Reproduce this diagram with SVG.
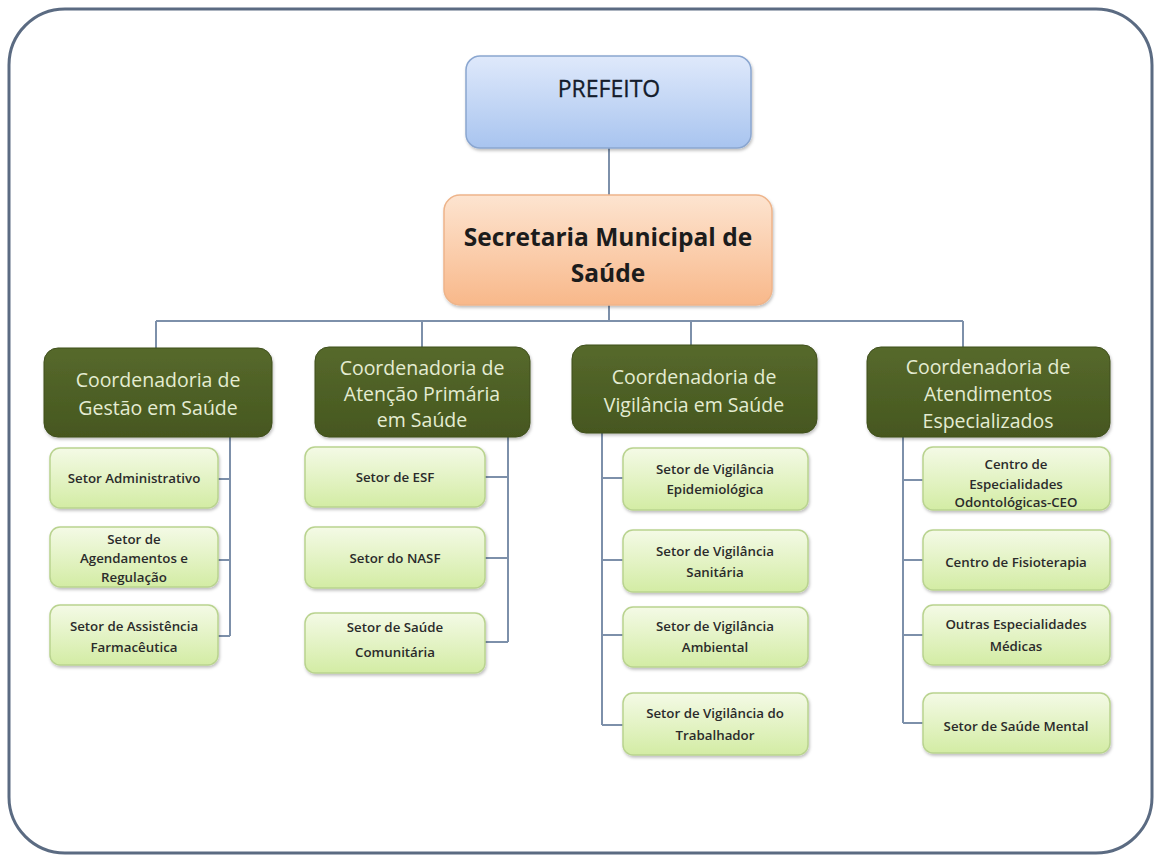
<svg xmlns="http://www.w3.org/2000/svg" width="1155" height="855" viewBox="0 0 1155 855">
<defs>
<linearGradient id="gBlue" x1="0" y1="0" x2="0" y2="1"><stop offset="0" stop-color="#dfe9fb"/><stop offset="1" stop-color="#a8c4ef"/></linearGradient>
<linearGradient id="gOrange" x1="0" y1="0" x2="0" y2="1"><stop offset="0" stop-color="#fde4d0"/><stop offset="1" stop-color="#f8b88a"/></linearGradient>
<linearGradient id="gDark" x1="0" y1="0" x2="0" y2="1"><stop offset="0" stop-color="#56692c"/><stop offset="1" stop-color="#46571f"/></linearGradient>
<linearGradient id="gLight" x1="0" y1="0" x2="0" y2="1"><stop offset="0" stop-color="#f4fae6"/><stop offset="1" stop-color="#d3eca4"/></linearGradient>
<filter id="sh" x="-10%" y="-10%" width="120%" height="130%"><feDropShadow dx="1" dy="2" stdDeviation="1.5" flood-color="#000" flood-opacity="0.25"/></filter>
</defs>
<style>
.frame{fill:#fff;stroke:#5b6b82;stroke-width:3}
.con{fill:none;stroke:#7d90aa;stroke-width:2}
.top{fill:url(#gBlue);stroke:#8aa6d0;stroke-width:1.5;filter:url(#sh)}
.sec{fill:url(#gOrange);stroke:#eeb48a;stroke-width:1.5;filter:url(#sh)}
.coord{fill:url(#gDark);stroke:#3f4e1c;stroke-width:1;filter:url(#sh)}
.sub{fill:url(#gLight);stroke:#b9d38f;stroke-width:1.5;filter:url(#sh)}
.t1{font-family:"Open Sans","Liberation Sans",sans-serif;font-size:23px;fill:#141c2c;text-anchor:middle;stroke:#141c2c;stroke-width:0.3}
.t2{font-family:"Open Sans","Liberation Sans",sans-serif;font-size:24.5px;font-weight:bold;fill:#1c1c1c;text-anchor:middle}
.tc{font-family:"Open Sans","Liberation Sans",sans-serif;font-size:19.5px;fill:#e4ecd2;text-anchor:middle}
.ts{font-family:"Open Sans","Liberation Sans",sans-serif;font-size:13.3px;font-weight:600;fill:#2b2b2b;text-anchor:middle}
</style>
<rect class="frame" x="9" y="9" width="1143" height="844" rx="56" ry="56"/>
<g id="connectors">
<path class="con" d="M609 148V195M609 305V321M156 321H963M156 321V348M422 321V347M691 321V345M963 321V347"/>
<path class="con" d="M230 437V636M218 479H230M218 560H230M218 636H230"/>
<path class="con" d="M508 437V642M485 477H508M485 558H508M485 642H508"/>
<path class="con" d="M602 433V725M602 478H623M602 560H623M602 635H623M602 725H623"/>
<path class="con" d="M903 437V723M903 480H923M903 560H923M903 635H923M903 723H923"/>
</g>
<g id="prefeito"><rect class="top" x="466" y="56" width="285" height="92" rx="14"/><text class="t1" x="609" y="97">PREFEITO</text></g>
<g id="secretaria"><rect class="sec" x="444" y="195" width="328" height="110" rx="16"/><text class="t2" x="608" y="246">Secretaria Municipal de</text><text class="t2" x="608" y="282">Saúde</text></g>
<g id="coord1"><rect class="coord" x="44" y="348" width="228" height="89" rx="14"/><text class="tc" x="158" y="387">Coordenadoria de</text><text class="tc" x="158" y="415">Gestão em Saúde</text></g>
<g id="coord2"><rect class="coord" x="315" y="347" width="215" height="90" rx="14"/><text class="tc" x="422" y="375">Coordenadoria de</text><text class="tc" x="422" y="401">Atenção Primária</text><text class="tc" x="422" y="427">em Saúde</text></g>
<g id="coord3"><rect class="coord" x="572" y="345" width="245" height="88" rx="14"/><text class="tc" x="694" y="384">Coordenadoria de</text><text class="tc" x="694" y="412">Vigilância em Saúde</text></g>
<g id="coord4"><rect class="coord" x="867" y="347" width="243" height="90" rx="14"/><text class="tc" x="988" y="374">Coordenadoria de</text><text class="tc" x="988" y="401">Atendimentos</text><text class="tc" x="988" y="428">Especializados</text></g>
<g id="s1a"><rect class="sub" x="50" y="448" width="168" height="60" rx="10"/><text class="ts" x="134" y="483">Setor Administrativo</text></g>
<g id="s1b"><rect class="sub" x="50" y="527" width="168" height="60" rx="10"/><text class="ts" x="134" y="544">Setor de</text><text class="ts" x="134" y="563">Agendamentos e</text><text class="ts" x="134" y="582">Regulação</text></g>
<g id="s1c"><rect class="sub" x="50" y="605" width="168" height="60" rx="10"/><text class="ts" x="134" y="631">Setor de Assistência</text><text class="ts" x="134" y="652">Farmacêutica</text></g>
<g id="s2a"><rect class="sub" x="305" y="447" width="180" height="60" rx="10"/><text class="ts" x="395" y="482">Setor de ESF</text></g>
<g id="s2b"><rect class="sub" x="305" y="527" width="180" height="61" rx="10"/><text class="ts" x="395" y="563">Setor do NASF</text></g>
<g id="s2c"><rect class="sub" x="305" y="613" width="180" height="60" rx="10"/><text class="ts" x="395" y="632">Setor de Saúde</text><text class="ts" x="395" y="657">Comunitária</text></g>
<g id="s3a"><rect class="sub" x="623" y="448" width="185" height="62" rx="10"/><text class="ts" x="715" y="474">Setor de Vigilância</text><text class="ts" x="715" y="494">Epidemiológica</text></g>
<g id="s3b"><rect class="sub" x="623" y="530" width="185" height="62" rx="10"/><text class="ts" x="715" y="556">Setor de Vigilância</text><text class="ts" x="715" y="577">Sanitária</text></g>
<g id="s3c"><rect class="sub" x="623" y="607" width="185" height="60" rx="10"/><text class="ts" x="715" y="631">Setor de Vigilância</text><text class="ts" x="715" y="652">Ambiental</text></g>
<g id="s3d"><rect class="sub" x="623" y="693" width="185" height="62" rx="10"/><text class="ts" x="715" y="718">Setor de Vigilância do</text><text class="ts" x="715" y="740">Trabalhador</text></g>
<g id="s4a"><rect class="sub" x="923" y="447" width="187" height="63" rx="10"/><text class="ts" x="1016" y="469">Centro de</text><text class="ts" x="1016" y="489">Especialidades</text><text class="ts" x="1016" y="507">Odontológicas-CEO</text></g>
<g id="s4b"><rect class="sub" x="923" y="530" width="187" height="60" rx="10"/><text class="ts" x="1016" y="567">Centro de Fisioterapia</text></g>
<g id="s4c"><rect class="sub" x="923" y="605" width="187" height="60" rx="10"/><text class="ts" x="1016" y="629">Outras Especialidades</text><text class="ts" x="1016" y="651">Médicas</text></g>
<g id="s4d"><rect class="sub" x="923" y="693" width="187" height="60" rx="10"/><text class="ts" x="1016" y="731">Setor de Saúde Mental</text></g>
</svg>
